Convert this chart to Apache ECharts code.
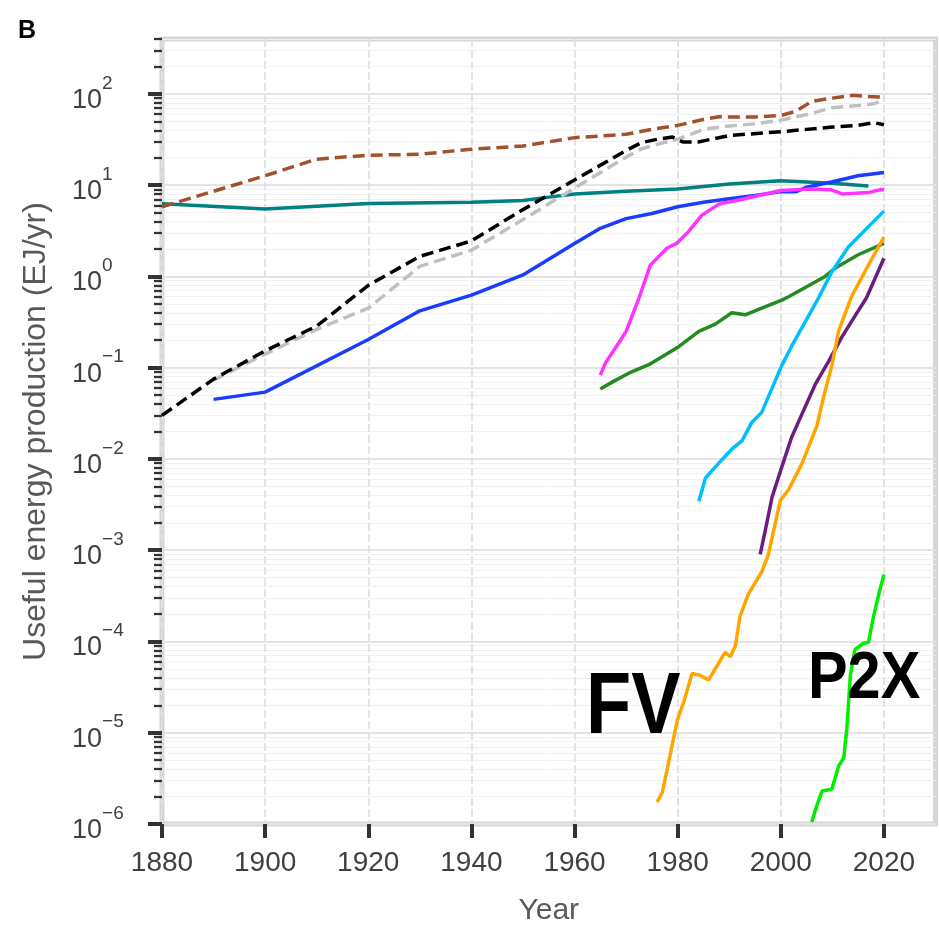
<!DOCTYPE html>
<html><head><meta charset="utf-8">
<script src="https://cdn.jsdelivr.net/npm/echarts@6/dist/echarts.min.js"></script>
<style>html,body{margin:0;padding:0;background:#fff}#c{width:939px;height:931px}</style>
</head><body><div id="c"></div>
<script>
// ---- data (year, EJ/yr) ----
const brownYears = [1880,1900,1910,1920,1930,1940,1950,1960,1970,1975,1980,1985,1988,1990,1995,2000,2003,2006,2010,2014,2017,2020];
const brownValues = [5.8,12.7,19.3,21.3,21.8,24.8,26.9,33.2,36.1,40.9,45.2,52.6,56.1,56,56,58.1,64.7,83,90,96.6,94,91.8];

const grayYears = [1890,1900,1910,1920,1930,1940,1950,1960,1970,1973,1976,1980,1983,1985,1990,1995,2000,2005,2010,2015,2018,2020];
const grayValues = [0.073,0.141,0.263,0.45,1.29,1.94,4.2,9.3,20.3,25,28,32,37,41,44.5,47,51.6,59.5,70.5,74.6,78,86.7];

const blackYears = [1880,1890,1900,1910,1920,1930,1940,1950,1960,1970,1973,1976,1979,1981,1984,1990,2000,2005,2010,2015,2018,2020];
const blackValues = [0.030,0.075,0.153,0.286,0.8,1.66,2.45,5.4,11.4,24,29.3,31.8,33.7,29.8,29.8,35,38.6,40.9,43.4,45.2,48.5,46];

const tealYears = [1880,1900,1920,1940,1950,1955,1960,1970,1980,1990,2000,2003,2010,2017];
const tealValues = [6.26,5.5,6.3,6.5,6.8,7.4,8.0,8.6,9.1,10.3,11.2,11,10.5,9.8];

const blueYears = [1890,1900,1920,1930,1940,1950,1960,1965,1970,1975,1980,1985,1990,1995,2000,2003,2005,2010,2015,2020];
const blueValues = [0.045,0.054,0.204,0.42,0.625,1.04,2.3,3.37,4.3,4.9,5.8,6.5,7.1,7.7,8.5,8.5,9.5,10.9,12.7,13.8];

const magentaYears = [1965,1966,1969,1970,1972.5,1974.7,1977.9,1979.8,1982.1,1984.7,1988,1993,2000,2006,2009.8,2012,2017,2019.5,2020];
const magentaValues = [0.083,0.113,0.204,0.25,0.58,1.33,2.04,2.3,3.1,4.7,6.2,7.1,8.76,9.1,8.9,8.0,8.3,9.0,8.8];

const greenYears = [1965,1967.3,1970.5,1974.4,1980.2,1984.1,1987.3,1990.5,1993.1,1996.3,2000.2,2001.5,2008.6,2010.5,2015,2020];
const greenValues = [0.0585,0.0695,0.087,0.108,0.17,0.25,0.30,0.40,0.38,0.45,0.55,0.60,1.0,1.23,1.73,2.3];

const skyYears = [1984.1,1985.4,1988.5,1990.5,1992.5,1994.4,1996.3,2000.2,2002.1,2007.3,2010,2013.1,2020];
const skyValues = [0.00344,0.0062,0.0097,0.0128,0.0159,0.0253,0.0324,0.106,0.172,0.58,1.15,2.1,5.2];

const fvYears = [1976,1977,1978.3,1979.9,1981.2,1982.8,1984.1,1986,1989.2,1990.2,1991.2,1992.1,1993.7,1996.3,1997.6,1999.9,2001.5,2004.1,2007,2008.3,2009.9,2011.2,2013.7,2017,2020];
const fvValues = [1.74e-6,2.2e-6,4.9e-6,1.35e-5,2.2e-5,4.45e-5,4.3e-5,3.8e-5,7.6e-5,6.8e-5,9.0e-5,1.9e-4,3.3e-4,5.8e-4,9.0e-4,3.5e-3,4.6e-3,8.9e-3,2.3e-2,4.8e-2,0.106,0.25,0.6,1.34,2.7];

const purpleYears = [1996,1997,1998.3,2000.2,2002.1,2004.1,2006.7,2009.3,2011.8,2014.4,2016.6,2020];
const purpleValues = [9.0e-4,1.66e-3,3.8e-3,8.2e-3,1.73e-2,3.1e-2,6.6e-2,0.118,0.215,0.37,0.58,1.58];

const p2xYears = [2006,2007,2008,2009.9,2011.2,2012.2,2012.8,2013.5,2014.4,2016,2017,2018,2019,2020];
const p2xValues = [1.05e-6,1.6e-6,2.3e-6,2.4e-6,4.3e-6,5.3e-6,1.1e-5,4.3e-5,8.2e-5,9.5e-5,9.8e-5,1.9e-4,3.3e-4,5.4e-4];

// ---- axis ticks ----
const xTicks = [1880,1900,1920,1940,1960,1980,2000,2020];
const yMajorTicks = [1e-6,1e-5,1e-4,1e-3,1e-2,1e-1,1,10,100];
const yMinorMult = [2,3,4,5,6,7,8,9];
const yMin = 1e-6, yMax = 400;
const yMinorTicks = [];
yMajorTicks.forEach(m => yMinorMult.forEach(k => { const v = m * k; if (v <= yMax * 1.0001) yMinorTicks.push(v); }));

const pairs = (xs, ys) => xs.map((x, i) => [x, ys[i]]);

const chart = echarts.init(document.getElementById('c'), null, {renderer: 'canvas'});

function line(name, xs, ys, color, dashed) {
  return {
    name, type: 'line', xAxisIndex: 0, yAxisIndex: 0,
    data: pairs(xs, ys), showSymbol: false, symbol: 'none',
    lineStyle: {color, width: 3.5, type: dashed ? [12, 6] : 'solid', cap: 'butt'},
    z: 3
  };
}

const font = 'Liberation Sans, Arial, Helvetica, sans-serif';

chart.setOption({
  animation: false,
  backgroundColor: '#fff',
  textStyle: {fontFamily: font},
  grid: {left: 162, right: 3.5, top: 39, bottom: 101.5, show: true, borderColor: '#d6d6d6', borderWidth: 5, containLabel: false},
  xAxis: {
    type: 'value', min: 1880, max: 2030,
    name: 'Year', nameLocation: 'middle', nameGap: 72,
    nameTextStyle: {fontSize: 30, color: '#595959', fontFamily: font},
    axisLine: {show: false},
    axisTick: {show: true, customValues: xTicks, length: 14, lineStyle: {color: '#333', width: 4}},
    axisLabel: {customValues: xTicks, fontSize: 28, color: '#404040', margin: 25, fontFamily: font,
      formatter: v => String(Math.round(v))},
    splitLine: {show: true, lineStyle: {color: '#e0e0e0', width: 1.8, type: [8, 3]}}
  },
  yAxis: [
    {
      type: 'log', min: yMin, max: yMax, logBase: 10,
      name: 'Useful energy production (EJ/yr)', nameLocation: 'middle', nameGap: 110,
      nameTextStyle: {fontSize: 32, color: '#595959', fontFamily: font},
      axisLine: {show: false},
      axisTick: {show: true, customValues: yMajorTicks, length: 14, lineStyle: {color: '#333', width: 4}},
      axisLabel: {
        customValues: yMajorTicks, align: 'left', margin: 90, color: '#404040',
        formatter: v => {
          const e = Math.round(Math.log10(v));
          const s = e < 0 ? '\u2212' + (-e) : String(e);
          return '{b|10}{s|' + s + '}{z| }';
        },
        rich: {
          b: {fontSize: 27, lineHeight: 28, verticalAlign: 'bottom', color: '#404040', fontFamily: font},
          s: {fontSize: 19, lineHeight: 18, verticalAlign: 'top', color: '#404040', fontFamily: font},
          z: {fontSize: 1, lineHeight: 40}
        }
      },
      splitLine: {show: true, lineStyle: {color: '#e4e4e4', width: 2}}
    },
    {
      type: 'log', min: yMin, max: yMax, logBase: 10, position: 'left',
      axisLine: {show: false},
      axisTick: {show: true, customValues: yMinorTicks, length: 8, lineStyle: {color: '#333', width: 2.3}},
      axisLabel: {show: false},
      splitLine: {show: true, lineStyle: {color: '#f1f1f1', width: 1}}
    }
  ],
  series: [
    line('teal', tealYears, tealValues, '#008080', false),
    line('blue', blueYears, blueValues, '#1a3cff', false),
    line('magenta', magentaYears, magentaValues, '#ff33ff', false),
    line('green', greenYears, greenValues, '#228b22', false),
    line('sky', skyYears, skyValues, '#00bfff', false),
    line('purple', purpleYears, purpleValues, '#6b1d80', false),
    line('FV', fvYears, fvValues, '#ffa500', false),
    line('P2X', p2xYears, p2xValues, '#00ee00', false),
    line('gray', grayYears, grayValues, '#c0c0c0', true),
    line('black', blackYears, blackValues, '#000000', true),
    line('brown', brownYears, brownValues, '#a0522d', true)
  ],
  graphic: [
    {type: 'text', x: 18, y: 31, style: {text: 'B', font: 'bold 25px ' + font, fill: '#000', textVerticalAlign: 'middle'}},
    {type: 'text', x: 586, y: 709, scaleX: 0.85, z: 10, style: {text: 'FV', font: 'bold 87px ' + font, fill: '#000', textVerticalAlign: 'middle'}},
    {type: 'text', x: 808, y: 680, scaleX: 0.9, z: 10, style: {text: 'P2X', font: 'bold 66px ' + font, fill: '#000', textVerticalAlign: 'middle'}}
  ]
});
</script></body></html>
